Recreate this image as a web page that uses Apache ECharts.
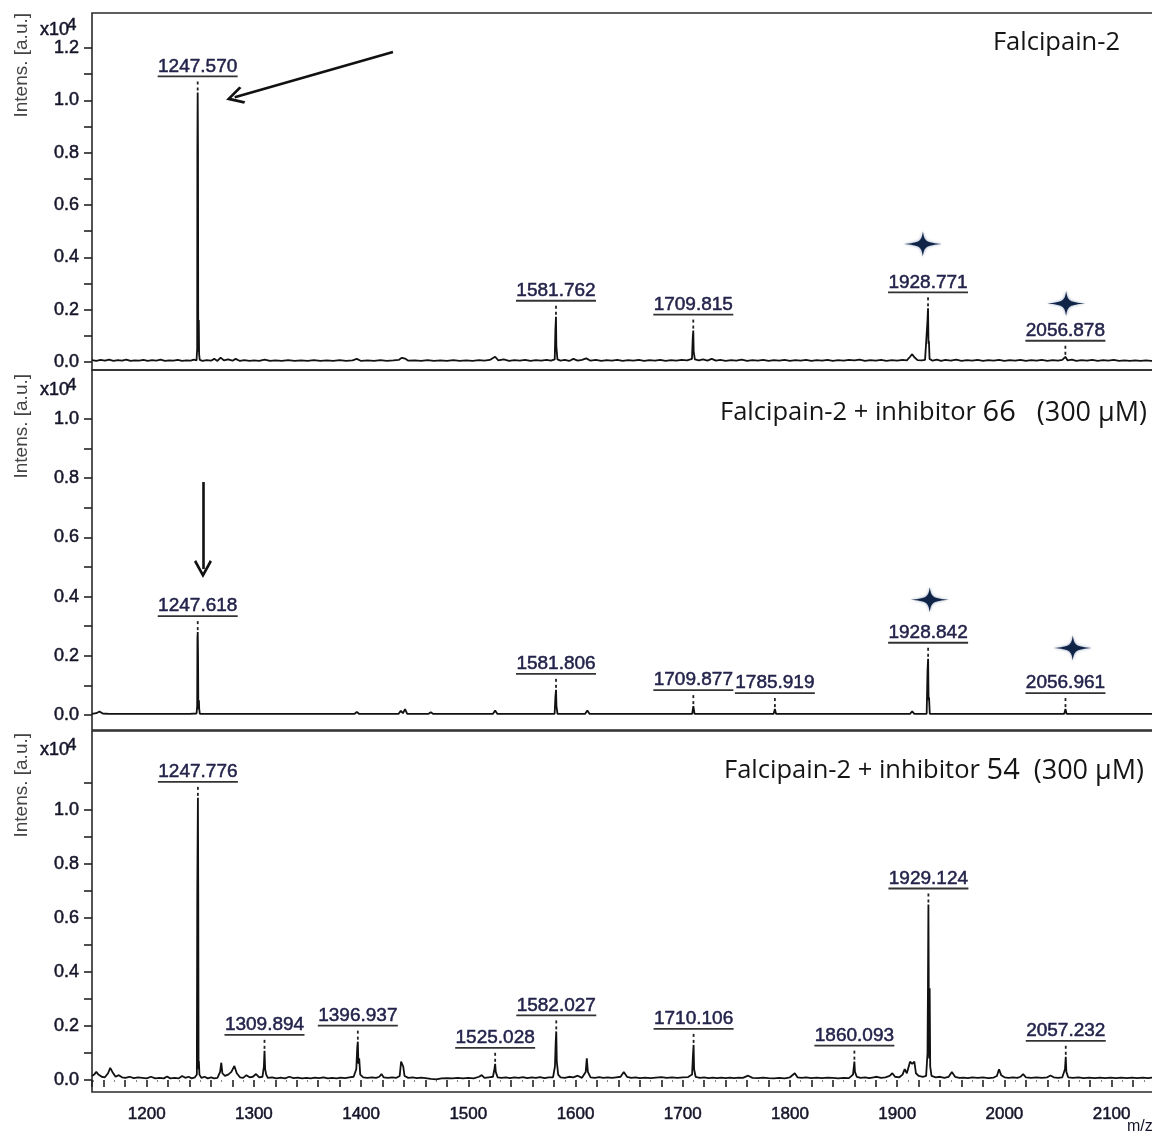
<!DOCTYPE html>
<html>
<head>
<meta charset="utf-8">
<script src="https://cdn.jsdelivr.net/npm/echarts@6/dist/echarts.min.js"></script>
<style>
html,body{margin:0;padding:0;background:#fff;}
#chart{width:1152px;height:1135px;}
</style>
</head>
<body>
<div id="chart"></div>
<script>
// ---------- DATA (intensity in units of 10^4 a.u., x = m/z) ----------
const spec1 = [
[1149,0.007],[1153,0.004],[1157,0.008],[1161,0.005],[1165,0.009],[1169,0.004],[1173,0.007],[1177,0.005],[1181,0.009],[1185,0.004],[1189,0.006],[1193,0.005],[1197,0.008],[1201,0.004],[1205,0.007],[1209,0.005],[1213,0.009],[1217,0.004],[1221,0.006],[1225,0.005],[1229,0.008],[1233,0.004],[1237,0.006],[1241,0.005],[1244,0.009],[1246.5,0.006],
[1247.1,0.05],[1247.3,0.82],[1247.57,1.03],[1247.85,0.82],[1248.1,0.05],[1248.4,0.04],[1248.6,0.16],[1248.9,0.03],[1249.5,0.008],
[1252,0.004],[1256,0.007],[1260,0.005],[1263,0.012],[1266,0.004],[1269,0.017],[1272,0.006],[1276,0.01],[1280,0.005],[1283,0.012],[1287,0.004],[1291,0.007],[1296,0.004],[1300,0.006],[1305,0.004],[1310,0.009],[1315,0.004],[1320,0.006],[1326,0.004],[1332,0.007],[1338,0.004],[1344,0.006],[1350,0.004],[1356,0.007],[1362,0.004],[1368,0.006],[1374,0.004],[1380,0.007],[1386,0.004],[1392,0.006],[1396,0.012],[1400,0.004],[1406,0.006],[1412,0.004],[1418,0.007],[1424,0.004],[1430,0.006],[1435,0.008],[1438,0.016],[1441,0.013],[1444,0.005],[1450,0.006],[1456,0.004],[1462,0.007],[1468,0.004],[1474,0.006],[1480,0.004],[1486,0.007],[1492,0.004],[1498,0.006],[1504,0.004],[1510,0.007],[1515,0.005],[1520,0.008],[1525,0.02],[1528,0.006],[1533,0.01],[1538,0.004],[1543,0.007],[1548,0.005],[1553,0.008],[1558,0.004],[1563,0.007],[1568,0.005],[1573,0.008],[1577,0.005],[1580.6,0.01],
[1581.2,0.12],[1581.76,0.173],[1582.1,0.06],[1582.6,0.06],[1583.1,0.01],
[1586,0.005],[1590,0.008],[1594,0.004],[1598,0.012],[1602,0.005],[1606,0.008],[1610,0.014],[1614,0.005],[1619,0.008],[1624,0.004],[1629,0.007],[1634,0.005],[1639,0.008],[1644,0.004],[1649,0.007],[1654,0.005],[1659,0.008],[1664,0.004],[1669,0.007],[1674,0.005],[1679,0.008],[1684,0.004],[1689,0.007],[1694,0.005],[1699,0.008],[1704,0.006],[1708.6,0.012],
[1709.3,0.09],[1709.82,0.12],[1710.2,0.04],[1710.7,0.045],[1711.3,0.01],
[1715,0.006],[1719,0.01],[1723,0.005],[1727,0.012],[1731,0.005],[1735,0.008],[1740,0.004],[1745,0.007],[1750,0.005],[1755,0.009],[1760,0.004],[1765,0.007],[1770,0.005],[1775,0.008],[1780,0.004],[1785,0.007],[1790,0.005],[1795,0.008],[1800,0.004],[1805,0.007],[1810,0.005],[1815,0.008],[1820,0.004],[1825,0.007],[1830,0.005],[1835,0.008],[1840,0.004],[1845,0.007],[1850,0.005],[1855,0.008],[1860,0.006],[1865,0.009],[1870,0.004],[1875,0.007],[1880,0.005],[1885,0.008],[1890,0.004],[1895,0.007],[1900,0.005],[1905,0.008],[1909,0.006],[1912,0.02],[1914,0.03],[1916,0.018],[1919,0.007],[1923,0.006],[1926,0.008],[1927.8,0.015],
[1928.3,0.16],[1928.77,0.205],[1929.2,0.07],[1929.6,0.08],[1930.2,0.012],
[1933,0.005],[1937,0.009],[1941,0.004],[1945,0.008],[1950,0.005],[1955,0.009],[1960,0.004],[1965,0.007],[1970,0.005],[1975,0.008],[1980,0.004],[1985,0.007],[1990,0.005],[1995,0.008],[2000,0.004],[2005,0.007],[2010,0.005],[2015,0.008],[2020,0.004],[2025,0.007],[2030,0.005],[2035,0.008],[2040,0.004],[2045,0.007],[2050,0.005],[2054,0.008],[2056.88,0.02],[2059,0.006],[2063,0.009],[2067,0.004],[2072,0.007],[2077,0.005],[2082,0.008],[2087,0.004],[2092,0.007],[2097,0.005],[2102,0.008],[2107,0.004],[2112,0.006],[2117,0.004],[2122,0.006],[2127,0.004],[2132,0.006],[2137,0.004],[2142,0.006],[2147,0.004]
];
const spec2 = [
[1149,0.004],[1153,0.006],[1156,0.012],[1159,0.005],[1165,0.004],[1180,0.004],[1200,0.004],[1220,0.004],[1240,0.004],[1246.5,0.005],
[1247.1,0.03],[1247.35,0.26],[1247.62,0.28],[1247.9,0.2],[1248.2,0.02],[1248.5,0.03],[1248.7,0.05],[1249.0,0.02],[1249.6,0.004],
[1265,0.004],[1269,0.004],[1270,0.007],[1271,0.004],[1281,0.004],[1282.5,0.009],[1284,0.004],[1309,0.004],[1310.5,0.009],[1312,0.004],[1340,0.004],[1370,0.004],[1394,0.004],[1396,0.01],[1398,0.004],[1420,0.004],[1435,0.004],[1437,0.014],[1439,0.006],[1441,0.02],[1443,0.004],[1463,0.004],[1465,0.009],[1467,0.004],[1500,0.004],[1523,0.004],[1525,0.015],[1527,0.004],[1555,0.004],[1580.5,0.004],
[1581.2,0.06],[1581.8,0.085],[1582.2,0.03],[1582.6,0.035],[1583.2,0.004],
[1609,0.004],[1611,0.015],[1613,0.004],[1640,0.004],[1670,0.004],[1700,0.004],[1708.8,0.004],[1709.88,0.03],[1711,0.004],[1740,0.004],[1770,0.004],[1784.8,0.004],[1785.92,0.02],[1787,0.004],[1820,0.004],[1860,0.004],[1890,0.004],[1912,0.004],[1914,0.012],[1916,0.004],[1927.5,0.004],
[1928.3,0.15],[1928.84,0.19],[1929.3,0.05],[1929.7,0.06],[1930.4,0.004],
[1960,0.004],[2000,0.004],[2040,0.004],[2055.8,0.004],[2056.96,0.02],[2058,0.004],[2100,0.004],[2147,0.004]
];
const spec3 = [
[1149,0.015],[1151,0.02],[1153,0.03],[1155,0.02],[1158,0.012],[1161,0.01],[1164,0.025],[1166,0.045],[1168,0.03],[1171,0.012],[1174,0.018],[1177,0.01],[1180,0.008],[1184,0.012],[1188,0.007],[1192,0.01],[1196,0.008],[1200,0.006],[1204,0.012],[1208,0.006],[1212,0.008],[1216,0.006],[1219,0.013],[1222,0.006],[1226,0.008],[1230,0.006],[1233,0.015],[1236,0.008],[1239,0.012],[1242,0.006],[1245,0.01],[1246.8,0.02],
[1247.2,0.69],[1247.78,1.045],[1248.1,0.69],[1248.4,0.04],[1248.7,0.07],[1249.2,0.02],
[1251,0.008],[1254,0.012],[1257,0.006],[1260,0.01],[1263,0.006],[1266,0.008],[1268.5,0.03],[1269.6,0.064],[1270.6,0.025],[1273,0.015],[1276,0.02],[1279,0.03],[1281.8,0.052],[1284,0.025],[1287,0.01],[1290,0.008],[1293,0.018],[1296,0.01],[1299,0.012],[1302,0.022],[1305,0.01],[1308,0.012],[1309.3,0.05],[1309.9,0.108],[1310.5,0.04],[1311.5,0.02],[1313,0.008],[1317,0.01],[1321,0.006],[1325,0.009],[1329,0.006],[1333,0.012],[1337,0.007],[1341,0.009],[1345,0.006],[1349,0.008],[1353,0.006],[1357,0.009],[1361,0.007],[1365,0.01],[1369,0.006],[1373,0.008],[1377,0.006],[1381,0.009],[1385,0.007],[1389,0.01],[1393,0.012],[1395.5,0.04],[1396.4,0.12],[1396.94,0.142],[1397.5,0.06],[1398.2,0.08],[1399.2,0.02],[1402,0.01],[1406,0.008],[1410,0.01],[1414,0.008],[1417,0.012],[1419,0.022],[1421,0.01],[1425,0.008],[1429,0.01],[1433,0.008],[1436,0.015],[1437.3,0.068],[1438.3,0.065],[1439.3,0.05],[1440.5,0.015],[1444,0.008],[1448,0.01],[1452,0.007],[1456,0.009],[1460,0.007],[1465,0.004],[1470,0.002],[1475,0.006],[1480,0.007],[1485,0.006],[1490,0.008],[1495,0.006],[1500,0.008],[1505,0.006],[1510,0.012],[1512.5,0.018],[1515,0.008],[1519,0.01],[1523,0.012],[1524.3,0.04],[1525.03,0.06],[1525.6,0.03],[1526.3,0.035],[1527.3,0.01],[1531,0.008],[1535,0.01],[1539,0.007],[1543,0.01],[1547,0.008],[1551,0.011],[1555,0.007],[1559,0.01],[1563,0.008],[1567,0.011],[1571,0.007],[1575,0.01],[1579,0.01],[1580.8,0.05],[1581.5,0.14],[1582.03,0.18],[1582.5,0.07],[1583.1,0.07],[1583.8,0.02],[1586,0.01],[1590,0.008],[1594,0.012],[1598,0.01],[1602,0.016],[1606,0.008],[1609.5,0.03],[1610.5,0.08],[1611.5,0.03],[1614,0.01],[1618,0.008],[1622,0.011],[1626,0.008],[1630,0.01],[1634,0.008],[1638,0.01],[1642,0.012],[1645,0.03],[1648,0.012],[1652,0.008],[1656,0.01],[1660,0.007],[1665,0.009],[1670,0.007],[1675,0.009],[1680,0.011],[1685,0.008],[1690,0.01],[1695,0.008],[1700,0.01],[1705,0.011],[1708.7,0.02],[1709.5,0.09],[1710.11,0.13],[1710.6,0.04],[1711.2,0.045],[1712,0.012],[1716,0.008],[1720,0.01],[1724,0.007],[1728,0.009],[1732,0.007],[1736,0.009],[1740,0.007],[1744,0.009],[1748,0.007],[1752,0.009],[1756,0.008],[1761,0.016],[1765,0.008],[1770,0.007],[1775,0.009],[1780,0.007],[1785,0.006],[1790,0.008],[1795,0.006],[1800,0.01],[1804.5,0.025],[1807,0.01],[1811,0.008],[1815,0.01],[1820,0.007],[1825,0.009],[1830,0.007],[1835,0.009],[1840,0.008],[1845,0.006],[1850,0.008],[1855,0.007],[1858.8,0.02],[1859.6,0.05],[1860.09,0.068],[1860.6,0.03],[1861.3,0.035],[1862.3,0.012],[1866,0.008],[1870,0.01],[1874,0.007],[1878,0.01],[1881,0.012],[1885,0.008],[1889,0.01],[1893,0.015],[1895.5,0.025],[1898,0.012],[1902,0.01],[1905,0.02],[1907,0.04],[1909,0.025],[1910.5,0.03],[1912,0.068],[1914,0.06],[1916,0.068],[1917.5,0.025],[1920,0.015],[1924,0.012],[1927,0.015],[1928.3,0.1],[1928.7,0.34],[1929.12,0.65],[1929.5,0.3],[1929.9,0.08],[1930.3,0.34],[1930.8,0.05],[1932,0.015],[1936,0.01],[1940,0.012],[1944,0.008],[1948,0.012],[1951,0.03],[1954,0.012],[1958,0.008],[1962,0.009],[1966,0.007],[1970,0.01],[1975,0.008],[1980,0.01],[1985,0.007],[1990,0.009],[1993,0.015],[1995,0.04],[1997,0.018],[2000,0.01],[2004,0.008],[2008,0.01],[2012,0.008],[2015,0.012],[2017.5,0.022],[2020,0.01],[2025,0.008],[2030,0.01],[2035,0.008],[2040,0.01],[2043,0.017],[2046,0.01],[2050,0.008],[2054,0.01],[2056.5,0.04],[2057.23,0.086],[2057.8,0.03],[2058.5,0.035],[2059.5,0.01],[2064,0.008],[2069,0.01],[2074,0.007],[2079,0.009],[2084,0.007],[2089,0.009],[2094,0.007],[2099,0.009],[2104,0.007],[2109,0.009],[2114,0.007],[2119,0.009],[2124,0.007],[2129,0.009],[2134,0.007],[2139,0.009],[2144,0.007],[2147,0.008]
];

// labelled peaks: [m/z, peak top intensity] and their label texts
const peaks1 = [[1247.570,1.03],[1581.762,0.173],[1709.815,0.12],[1928.771,0.205],[2056.878,0.02]];
const peakText1 = ['1247.570','1581.762','1709.815','1928.771','2056.878'];
const peaks2 = [[1247.618,0.28],[1581.806,0.085],[1709.877,0.03],[1785.919,0.02],[1928.842,0.19],[2056.961,0.02]];
const peakText2 = ['1247.618','1581.806','1709.877','1785.919','1928.842','2056.961'];
const peaks3 = [[1247.776,1.045],[1309.894,0.108],[1396.937,0.142],[1525.028,0.06],[1582.027,0.18],[1710.106,0.13],[1860.093,0.068],[1929.124,0.65],[2057.232,0.086]];
const peakText3 = ['1247.776','1309.894','1396.937','1525.028','1582.027','1710.106','1860.093','1929.124','2057.232'];

// annotation arrows [start, end] and stars, in data coordinates
const arrow1 = [[1429.7,1.185],[1282.1,1.012]];
const arrow2 = [[1252.5,0.787],[1252.5,0.493]];
const arrow3 = [[1429.7,1.207],[1282.1,1.040]];
const stars1 = [[1924,0.451],[2057.6,0.224]];
const stars2 = [[1930.4,0.389],[2063.8,0.226]];

const titles = ['Falcipain-2', 'Falcipain-2 + inhibitor ', 'Falcipain-2 + inhibitor '];
const inhibitorNo = ['', '66', '54'];
const concText = ['', '   (300 µM)', '  (300 µM)'];
const yName = 'Intens. [a.u.]';
const xName = 'm/z';
const xMin = 1149, xMax = 2147;
const yMax = [1.3, 1.1, 1.2];

// ---------- LAYOUT ----------
const L = 92, W = 1070;
const dataGrids = [
  {top: 21.8, height: 340.2},
  {top: 389.4, height: 325.6},
  {top: 756, height: 324}
];
const frames = [
  {top: 13, height: 357},
  {top: 370, height: 360},
  {top: 731, height: 361}
];
const TXT = '#15152a';
const CHEVRON = 'path://M10,0 L20,15 L17.6,16.6 L10,5.2 L2.4,16.6 L0,15 Z';
const STAR = 'path://M0,-12 C1.5,-2 3,-1.5 18,0 C3,1.5 1.5,2 0,12 C-1.5,2 -3,1.5 -18,0 C-3,-1.5 -1.5,-2 0,-12 Z';

const grid = [];
dataGrids.forEach(g => grid.push({left: L, width: W, top: g.top, height: g.height, outerBoundsMode: 'none'}));
frames.forEach(g => grid.push({left: L, width: W, top: g.top, height: g.height, show: true,
  borderColor: '#2a2a2a', borderWidth: 1.6, backgroundColor: 'transparent', outerBoundsMode: 'none'}));

const xAxis = [], yAxis = [];
for (let i = 0; i < 3; i++) {
  if (i < 2) {
    xAxis.push({gridIndex: i, type: 'value', min: xMin, max: xMax, show: false});
  } else {
    xAxis.push({
      gridIndex: i, type: 'value', min: xMin, max: xMax,
      minInterval: 20, maxInterval: 20, splitNumber: 50, offset: 12,
      axisLine: {show: false},
      axisTick: {show: true, length: 7, lineStyle: {color: '#222', width: 1.6}},
      minorTick: {show: true, splitNumber: 2, length: 2, lineStyle: {color: '#888', width: 1}},
      splitLine: {show: false}, minorSplitLine: {show: false},
      axisLabel: {
        margin: 14, fontSize: 17, fontFamily: 'Liberation Sans', color: TXT,
        textBorderColor: TXT, textBorderWidth: 0.5,
        formatter: v => (Math.round(v) % 100 === 0 && Math.abs(v - Math.round(v)) < 1e-6) ? String(Math.round(v)) : ''
      }
    });
  }
  yAxis.push({
    gridIndex: i, type: 'value', min: 0, max: yMax[i], interval: 0.1,
    axisLine: {show: false},
    axisTick: {show: true, length: 8, lineStyle: {color: '#222', width: 1.6}},
    splitLine: {show: false},
    axisLabel: {
      margin: 13, fontSize: 18, fontFamily: 'Liberation Sans', color: TXT, showMaxLabel: false,
      textBorderColor: TXT, textBorderWidth: 0.5,
      formatter: v => (Math.round(v * 10) % 2 === 0) ? v.toFixed(1) : ''
    }
  });
}
for (let i = 0; i < 3; i++) {
  xAxis.push({gridIndex: 3 + i, type: 'value', min: 0, max: 1, show: false});
  yAxis.push({gridIndex: 3 + i, type: 'value', min: 0, max: 1, show: false});
}

function labelRenderer(texts) {
  return function (params, api) {
    const p = api.coord([api.value(0), api.value(1)]);
    const gap = 16, w = 40;
    const yU = p[1] - gap;
    return {
      type: 'group',
      children: [
        {type: 'line', shape: {x1: p[0], y1: p[1] - 2, x2: p[0], y2: yU + 2},
          style: {stroke: '#222', lineWidth: 1.8, lineDash: [3, 3]}},
        {type: 'line', shape: {x1: p[0] - w, y1: yU, x2: p[0] + w, y2: yU},
          style: {stroke: '#333', lineWidth: 1.8}},
        {type: 'text', x: p[0], y: yU - 0.5,
          style: {text: texts[params.dataIndex], font: '19px "Liberation Sans"', fill: '#22224a',
            stroke: '#22224a', lineWidth: 0.5,
            textAlign: 'center', textVerticalAlign: 'bottom'}}
      ]
    };
  };
}

const specs = [spec1, spec2, spec3];
const peaks = [peaks1, peaks2, peaks3];
const peakTexts = [peakText1, peakText2, peakText3];
const arrows = [arrow1, arrow2, arrow3];
const stars = [stars1, stars2, []];

const series = [];
for (let i = 0; i < 3; i++) {
  series.push({
    type: 'line', xAxisIndex: i, yAxisIndex: i, data: specs[i],
    showSymbol: false, symbol: 'none', clip: false, silent: true, z: 3,
    lineStyle: {color: '#111', width: 1.8},
    markLine: {
      silent: true, animation: false, symbol: ['none', CHEVRON], symbolSize: 18,
      lineStyle: {color: '#111', width: 2.6, type: 'solid'},
      label: {show: false}, emphasis: {disabled: true},
      data: [[{coord: arrows[i][0]}, {coord: arrows[i][1]}]]
    },
    markPoint: stars[i].length ? {
      silent: true, animation: false, symbol: STAR, symbolSize: [38, 25],
      itemStyle: {color: '#102448', shadowBlur: 3, shadowColor: 'rgba(40,70,120,0.6)'},
      label: {show: false},
      data: stars[i].map(s => ({coord: s}))
    } : undefined
  });
  series.push({
    type: 'custom', xAxisIndex: i, yAxisIndex: i, data: peaks[i],
    encode: {x: 0, y: 1}, renderItem: labelRenderer(peakTexts[i]),
    clip: false, silent: true, z: 5
  });
}

// ---------- TEXT DECORATIONS ----------
const graphic = [];
const titleY = [43, 413, 771];
const titleRight = [1120, 1147, 1144];
const yNameTop = [13, 374, 733];
const x10Y = [30, 390, 750];
for (let i = 0; i < 3; i++) {
  const txt = i === 0 ? '{t|' + titles[0] + '}' : '{t|' + titles[i] + '}{n|' + inhibitorNo[i] + '}{c|' + concText[i] + '}';
  graphic.push({
    type: 'text', x: titleRight[i], y: titleY[i], silent: true,
    style: {
      text: txt, textAlign: 'right', textVerticalAlign: 'middle',
      rich: {
        t: {fontSize: 25.5, fontFamily: 'Open Sans', fill: '#151515'},
        n: {fontSize: 29, fontFamily: 'Open Sans', fill: '#151515'},
        c: {fontSize: 27, fontFamily: 'Open Sans', fill: '#151515'}
      }
    }
  });
  graphic.push({
    type: 'text', x: 22, y: yNameTop[i], rotation: Math.PI / 2, silent: true,
    style: {text: yName, font: '19px "Liberation Sans"', fill: '#444', textAlign: 'right', textVerticalAlign: 'middle'}
  });
  graphic.push({
    type: 'text', x: 69, y: x10Y[i], silent: true,
    style: {text: 'x10', font: '18px "Liberation Sans"', fill: TXT, stroke: TXT, lineWidth: 0.5, textAlign: 'right', textVerticalAlign: 'middle'}
  });
  graphic.push({
    type: 'text', x: 67, y: x10Y[i] - 5, silent: true,
    style: {text: '4', font: '17px "Liberation Sans"', fill: TXT, stroke: TXT, lineWidth: 0.5, textAlign: 'left', textVerticalAlign: 'middle'}
  });
}
graphic.push({
  type: 'text', x: 1127, y: 1127, silent: true,
  style: {text: xName, font: '16px "Liberation Sans"', fill: TXT, textAlign: 'left', textVerticalAlign: 'middle'}
});

const chart = echarts.init(document.getElementById('chart'), null, {renderer: 'canvas'});
chart.setOption({
  backgroundColor: '#fff',
  animation: false,
  grid, xAxis, yAxis, series, graphic
});
</script>
</body>
</html>
